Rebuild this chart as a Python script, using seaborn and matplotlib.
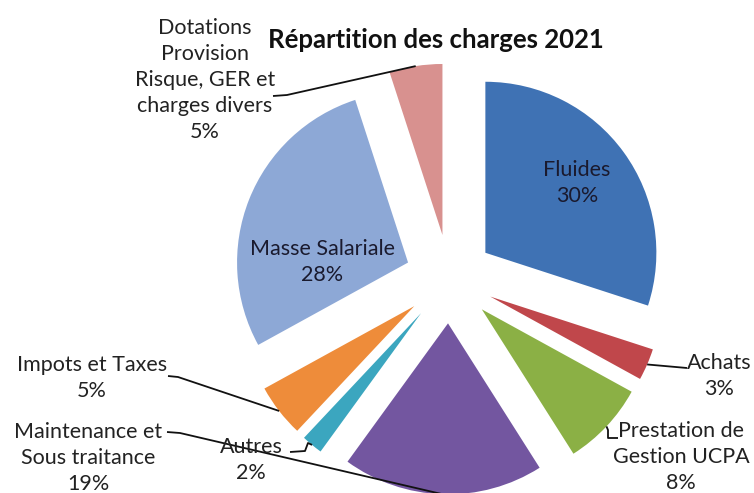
import matplotlib
matplotlib.use("Agg")
import matplotlib.pyplot as plt
import seaborn as sns
import numpy as np

sns.set_theme(style="white")
plt.rcParams['font.family'] = ['Lato', 'DejaVu Sans']

# ---- data (clockwise from 12 o'clock) ----
categories = ["Fluides", "Achats", "Prestation de\nGestion UCPA",
              "Maintenance et\nSous traitance", "Autres", "Impots et Taxes",
              "Masse Salariale", "Dotations\nProvision\nRisque, GER et\ncharges divers"]
values = [30, 3, 8, 19, 2, 5, 28, 5]
colors = ["#3F72B4", "#C0474B", "#8BB045", "#7356A0", "#3BA6BF",
          "#EE8C3A", "#8DA8D6", "#D8918F"]

W, H = 754, 493
R_PX = 171.0
CX, CY = 449.4, 278.9   # pie centre in pixels (y down)

fig = plt.figure(figsize=(W / 100, H / 100), dpi=100)
ax = fig.add_axes([0, 0, 1, 1])

def p2d(px, py):
    return ((px - CX) / R_PX, (CY - py) / R_PX)

wedges, _ = ax.pie(values, colors=colors, startangle=90, counterclock=False,
                   explode=[0.26] * len(values), radius=1.0,
                   wedgeprops=dict(linewidth=0))
ax.set_xlim(-CX / R_PX, (W - CX) / R_PX)
ax.set_ylim((CY - H) / R_PX, CY / R_PX)
ax.set_aspect("equal")
ax.axis("off")

def outer_mid(w):
    t = np.deg2rad(0.5 * (w.theta1 + w.theta2))
    return (w.center[0] + w.r * np.cos(t), w.center[1] + w.r * np.sin(t))

fs = 15.5
tc = "#222222"
ls = 1.38

# inside labels
for i, (px, py) in [(0, (577, 183)), (6, (322, 262))]:
    x, y = p2d(px, py)
    ax.text(x, y, f"{categories[i]}\n{values[i]}%", ha="center", va="center",
            fontsize=fs, color="#1a1a2e", linespacing=ls)

# outside labels: index -> (text centre px, leader start px list)
outside = {
    7: ((205, 80), [(273, 96), (287, 95)]),
    1: ((719, 376), [(687, 368)]),
    2: ((681, 457), [(618, 438), (608, 438), (608, 430)]),
    3: ((88, 458), [(167, 432), (180, 433)]),
    4: ((251, 460), [(290, 452), (305, 451), (308, 443)]),
    5: ((92, 378), [(168, 376), (178, 377)]),
}
for i, ((px, py), pts) in outside.items():
    x, y = p2d(px, py)
    ax.text(x, y, f"{categories[i]}\n{values[i]}%", ha="center", va="center",
            fontsize=fs, color=tc, linespacing=ls)
    path = [p2d(a, b) for a, b in pts] + [outer_mid(wedges[i])]
    xs, ys = zip(*path)
    ax.plot(xs, ys, color="#111111", lw=1.3, solid_capstyle="butt")

tx, ty = p2d(436, 40)
ax.text(tx, ty, "Répartition des charges 2021", ha="center", va="center",
        fontsize=18.5, fontweight="bold", color="#111111")

fig.savefig("out.png", dpi=100)
